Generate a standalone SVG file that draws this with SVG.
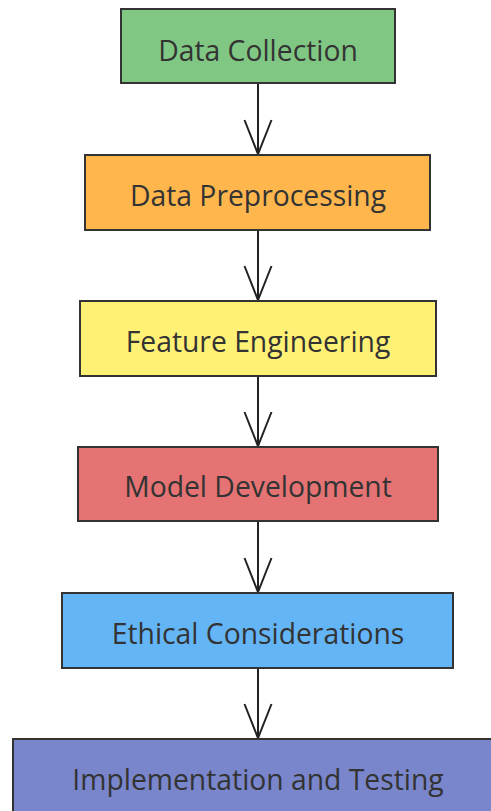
<svg xmlns="http://www.w3.org/2000/svg" width="491" height="811" viewBox="0 0 491 811">
  <style>
    .box { stroke: #333333; stroke-width: 2; }
    .label { font-family: "Open Sans", "Noto Sans", "DejaVu Sans", sans-serif; font-size: 28.3px; fill: #333333; text-anchor: middle; }
    .edge { stroke: #222222; stroke-width: 2; fill: none; }
  </style>
  <defs>
    <!-- open V arrowhead, drawn along +x so orient="auto" points it down the line -->
    <marker id="vhead" markerUnits="userSpaceOnUse" markerWidth="40" markerHeight="32" refX="35" refY="15" orient="auto" viewBox="0 0 40 30">
      <path d="M1,1.5 L35,15 L1,28.5" fill="none" stroke="#222222" stroke-width="2"/>
    </marker>
  </defs>

  <g id="connectors">
    <line class="edge" x1="258" y1="83" x2="258" y2="154" marker-end="url(#vhead)"/>
    <line class="edge" x1="258" y1="230" x2="258" y2="300" marker-end="url(#vhead)"/>
    <line class="edge" x1="258" y1="376" x2="258" y2="446" marker-end="url(#vhead)"/>
    <line class="edge" x1="258" y1="521" x2="258" y2="592" marker-end="url(#vhead)"/>
    <line class="edge" x1="258" y1="668" x2="258" y2="738" marker-end="url(#vhead)"/>
  </g>

  <g id="data-collection">
    <rect class="box" x="121" y="9" width="274" height="74" fill="#81C784"/>
    <text class="label" x="258" y="61">Data Collection</text>
  </g>
  <g id="data-preprocessing">
    <rect class="box" x="85" y="155" width="345" height="75" fill="#FFB74D"/>
    <text class="label" x="258" y="205.5">Data Preprocessing</text>
  </g>
  <g id="feature-engineering">
    <rect class="box" x="80" y="301" width="356" height="75" fill="#FFF176"/>
    <text class="label" x="258" y="352">Feature Engineering</text>
  </g>
  <g id="model-development">
    <rect class="box" x="78" y="447" width="360" height="74" fill="#E57373"/>
    <text class="label" x="258" y="496.5">Model Development</text>
  </g>
  <g id="ethical-considerations">
    <rect class="box" x="62" y="593" width="391" height="75" fill="#64B5F6"/>
    <text class="label" x="258" y="644">Ethical Considerations</text>
  </g>
  <g id="implementation-testing">
    <rect class="box" x="13" y="739" width="490" height="75" fill="#7986CB"/>
    <text class="label" x="258" y="790">Implementation and Testing</text>
  </g>
</svg>
